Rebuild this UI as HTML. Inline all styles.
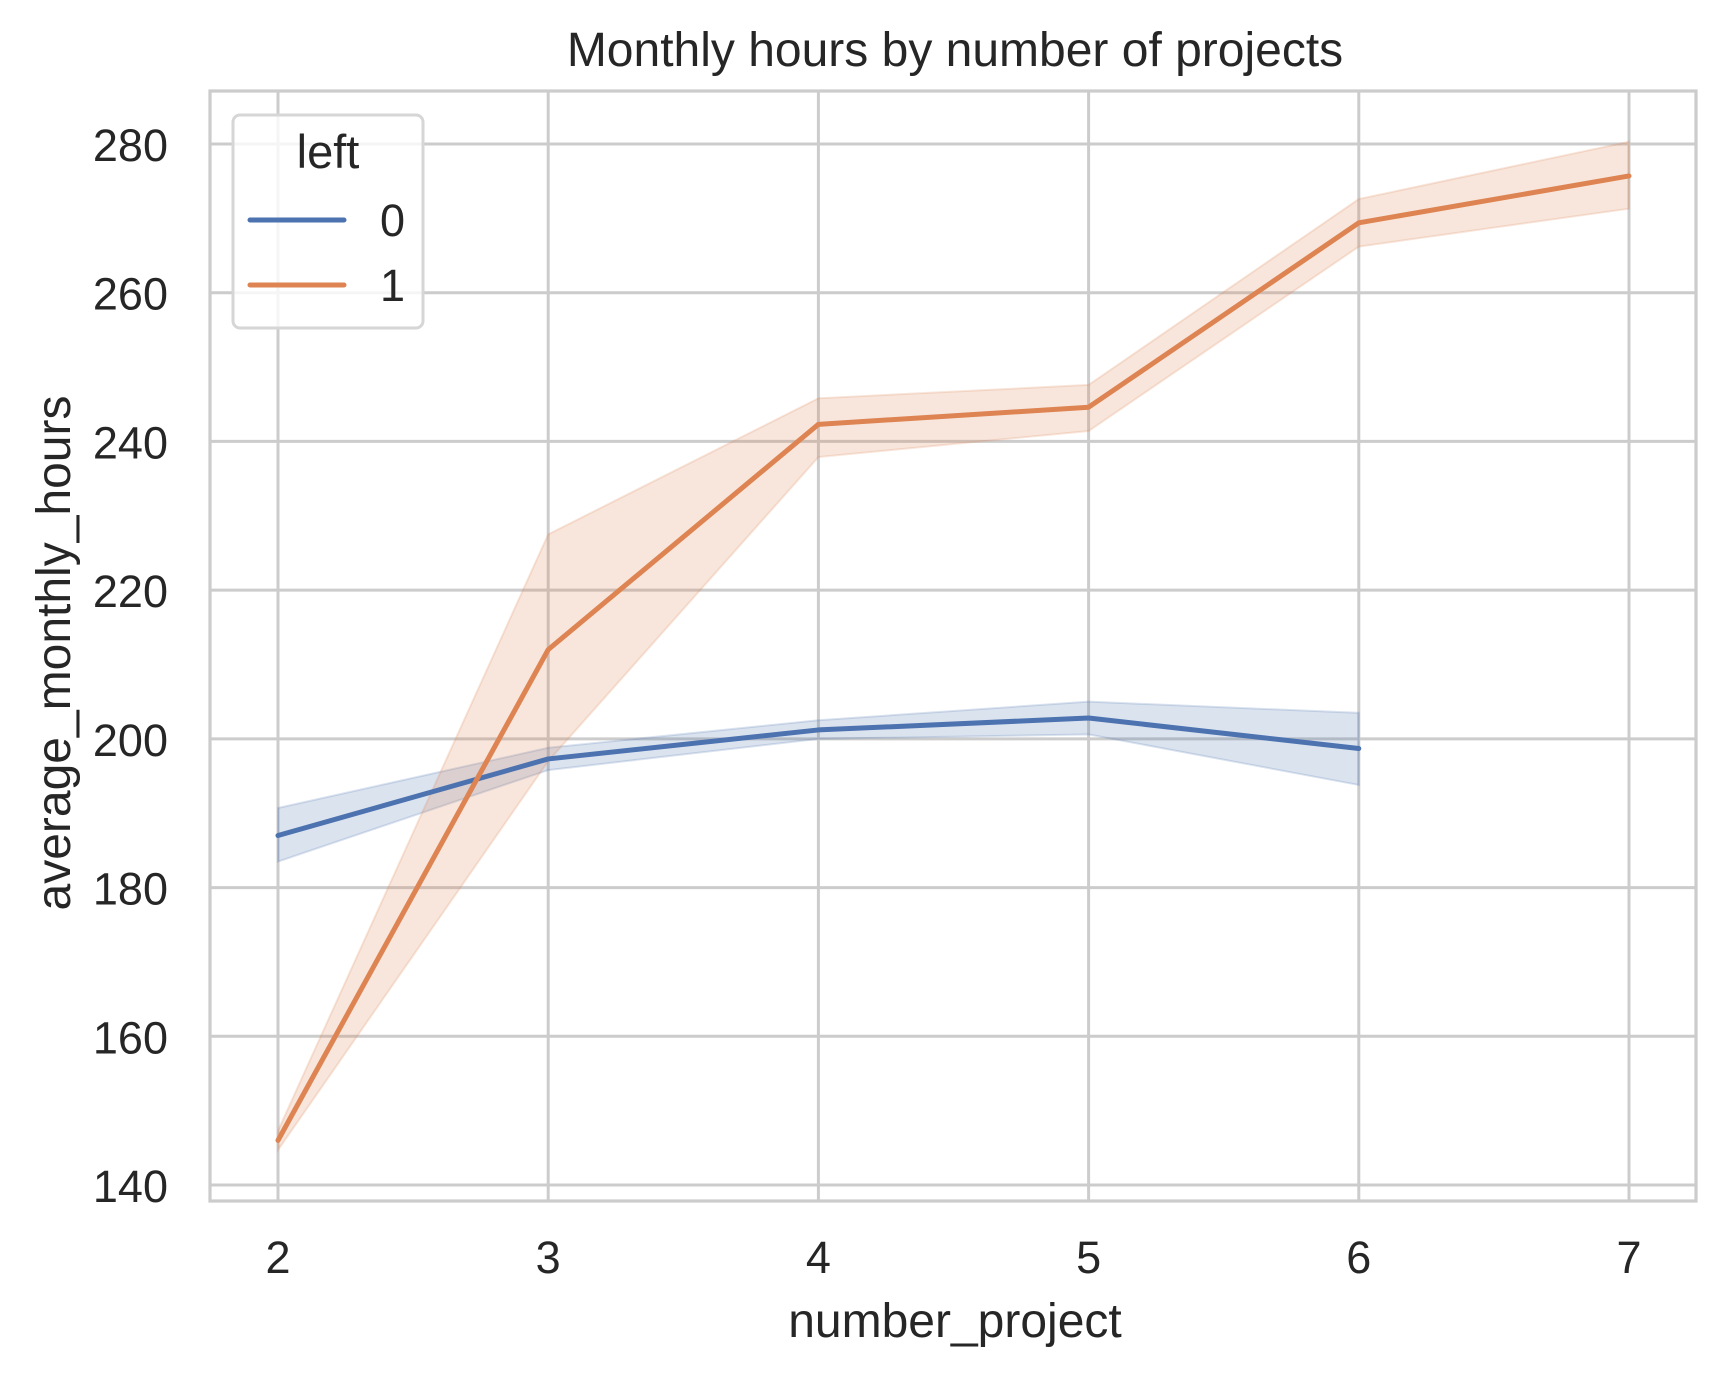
<!DOCTYPE html>
<html><head><meta charset="utf-8"><style>
html,body{margin:0;padding:0;background:#fff;}
svg text{font-family:"Liberation Sans",Arial,sans-serif;fill:#262626;}
</style></head><body>
<svg id="chart" width="1727" height="1376" xmlns="http://www.w3.org/2000/svg">
<rect width="1727" height="1376" fill="#fff"/>
<g id="grid"></g><g id="bands"></g><g id="lines"></g><g id="axes"></g><g id="legend"></g>
</svg>
<script>
const categories=[2,3,4,5,6,7];
const xTicks=[2,3,4,5,6,7];
const yTicks=[140,160,180,200,220,240,260,280];
const stay_mean=[187,197.3,201.2,202.8,198.7];
const stay_lo=[183.5,195.8,200,200.6,193.8];
const stay_hi=[190.7,198.8,202.5,205,203.5];
const left_mean=[146,212,242.3,244.6,269.4,275.7];
const left_lo=[144.7,197,237.9,241.4,266.2,271.3];
const left_hi=[147.3,227.5,245.8,247.6,272.6,280.3];
const NS='http://www.w3.org/2000/svg';
const L=210,R=1696,T=91,B=1201;
function xs(v){return 278+(v-2)*(1629-278)/5;}
function ys(v){return 1185-(v-140)*(1185-144)/140;}
function mk(p,tag,a){const e=document.createElementNS(NS,tag);for(const k in a)e.setAttribute(k,a[k]);p.appendChild(e);return e;}
const grid=document.getElementById('grid'),axes=document.getElementById('axes');
xTicks.forEach(t=>{const l=mk(grid,'line',{x1:xs(t),x2:xs(t),y1:T,y2:B,stroke:'#cccccc','stroke-width':3});

const tx=mk(axes,'text',{x:xs(t),y:1273,'text-anchor':'middle','font-size':45});tx.textContent=t;
});
yTicks.forEach(t=>{const l=mk(grid,'line',{x1:L,x2:R,y1:ys(t),y2:ys(t),stroke:'#cccccc','stroke-width':3});

const tx=mk(axes,'text',{x:168,y:ys(t)+17,'text-anchor':'end','font-size':45});tx.textContent=t;
});
const sp=mk(axes,'rect',{x:L,y:T,width:R-L,height:B-T,fill:'none',stroke:'#cccccc','stroke-width':3.2});

function band(lo,hi,color,name){const n=lo.length;let d='';
for(let i=0;i<n;i++)d+=(i?'L':'M')+xs(categories[i])+','+ys(hi[i]);
for(let i=n-1;i>=0;i--)d+='L'+xs(categories[i])+','+ys(lo[i]);
const p=mk(document.getElementById('bands'),'path',{d:d+'Z',fill:color,'fill-opacity':0.2,stroke:color,'stroke-opacity':0.2,'stroke-width':2});
}
function line(m,color,name){const pts=m.map((v,i)=>xs(categories[i])+','+ys(v)).join(' ');
const p=mk(document.getElementById('lines'),'polyline',{points:pts,fill:'none',stroke:color,'stroke-width':5,'stroke-linecap':'round','stroke-linejoin':'round'});
}
band(stay_lo,stay_hi,'#4c72b0','ci-band-left-0');band(left_lo,left_hi,'#dd8452','ci-band-left-1');
line(stay_mean,'#4c72b0','line-left-0');line(left_mean,'#dd8452','line-left-1');
const t=mk(axes,'text',{x:955,y:66,'text-anchor':'middle','font-size':48});t.textContent='Monthly hours by number of projects';

const xl=mk(axes,'text',{x:955,y:1337,'text-anchor':'middle','font-size':48});xl.textContent='number_project';

const yl=mk(axes,'text',{x:0,y:0,'text-anchor':'middle','font-size':48,transform:'translate(70,653) rotate(-90)'});yl.textContent='average_monthly_hours';

const lg=document.getElementById('legend');

mk(lg,'rect',{x:233,y:115,width:190,height:213,rx:7,fill:'#fff','fill-opacity':0.8,stroke:'#d6d6d6','stroke-width':3});
const lt=mk(lg,'text',{x:328,y:168,'text-anchor':'middle','font-size':47});lt.textContent='left';

[['0','#4c72b0',220],['1','#dd8452',285]].forEach(([lab,c,y])=>{
const ln=mk(lg,'line',{x1:250,x2:344,y1:y,y2:y,stroke:c,'stroke-width':5,'stroke-linecap':'round'});

const tx=mk(lg,'text',{x:380,y:y+16,'font-size':45});tx.textContent=lab;
});
</script>
</body></html>
